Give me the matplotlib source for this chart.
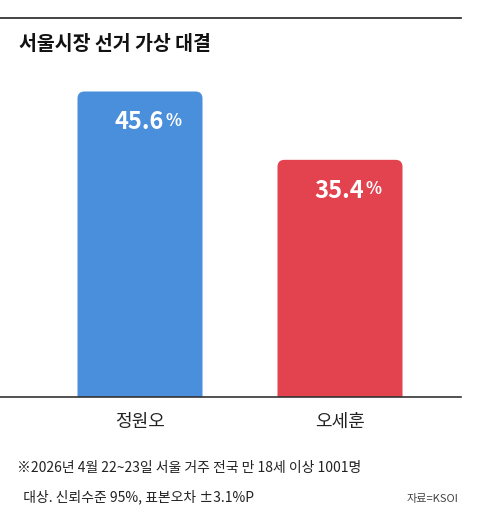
import matplotlib.pyplot as plt
from matplotlib.patches import FancyBboxPatch

plt.rcParams['font.family'] = ['Noto Sans CJK KR', 'DejaVu Sans']

candidates = ["정원오", "오세훈"]
values = [45.6, 35.4]
colors = ["#4a8fdc", "#e2434f"]

title = "서울시장 선거 가상 대결"
note1 = "※2026년 4월 22~23일 서울 거주 전국 만 18세 이상 1001명"
note2 = "  대상. 신뢰수준 95%, 표본오차 ±3.1%P"
source = "자료=KSOI"

fig = plt.figure(figsize=(4.8, 5.25), dpi=100)
fig.patch.set_facecolor("white")

# top rule and title
fig.add_artist(plt.Line2D([0.0, 0.96], [1 - 18 / 525] * 2, color="#222222", lw=1.2))
fig.text(0.04, 1 - 45 / 525, title, fontsize=14, fontweight="bold", va="center", color="#111111")

ax = fig.add_axes([0, 128 / 525, 1, 337 / 525])
ax.set_xlim(-0.7, 1.7)
ax.set_ylim(0, 50.3)
ax.axis("off")

w = 0.625
for i, (v, c) in enumerate(zip(values, colors)):
    p = FancyBboxPatch((i - w / 2, -5), w, v + 5,
                       boxstyle="round,pad=0,rounding_size=0.035",
                       mutation_aspect=30, fc=c, ec="none")
    ax.add_patch(p)
    ax.text(i + 0.12, v - 4.6, f"{v:.1f}", fontsize=17, fontweight="bold", color="white",
            ha="right", va="center")
    ax.text(i + 0.125, v - 4.4, "%", fontsize=12, fontweight="bold", color="white",
            ha="left", va="center")

for i, name in enumerate(candidates):
    fig.text((140 + 200 * i) / 480, 1 - 422 / 525, name, fontsize=13, ha="center",
             va="center", color="#222222")

fig.add_artist(plt.Line2D([0.0, 0.96], [128 / 525] * 2, color="#333333", lw=1.2))

fig.text(0.035, 1 - 468 / 525, note1, fontsize=10, va="center", color="#222222")
fig.text(0.035, 1 - 497 / 525, note2, fontsize=10, va="center", color="#222222")
fig.text(0.955, 1 - 499 / 525, source, fontsize=8, va="center", ha="right", color="#444444")

fig.savefig("out.png", dpi=100)
